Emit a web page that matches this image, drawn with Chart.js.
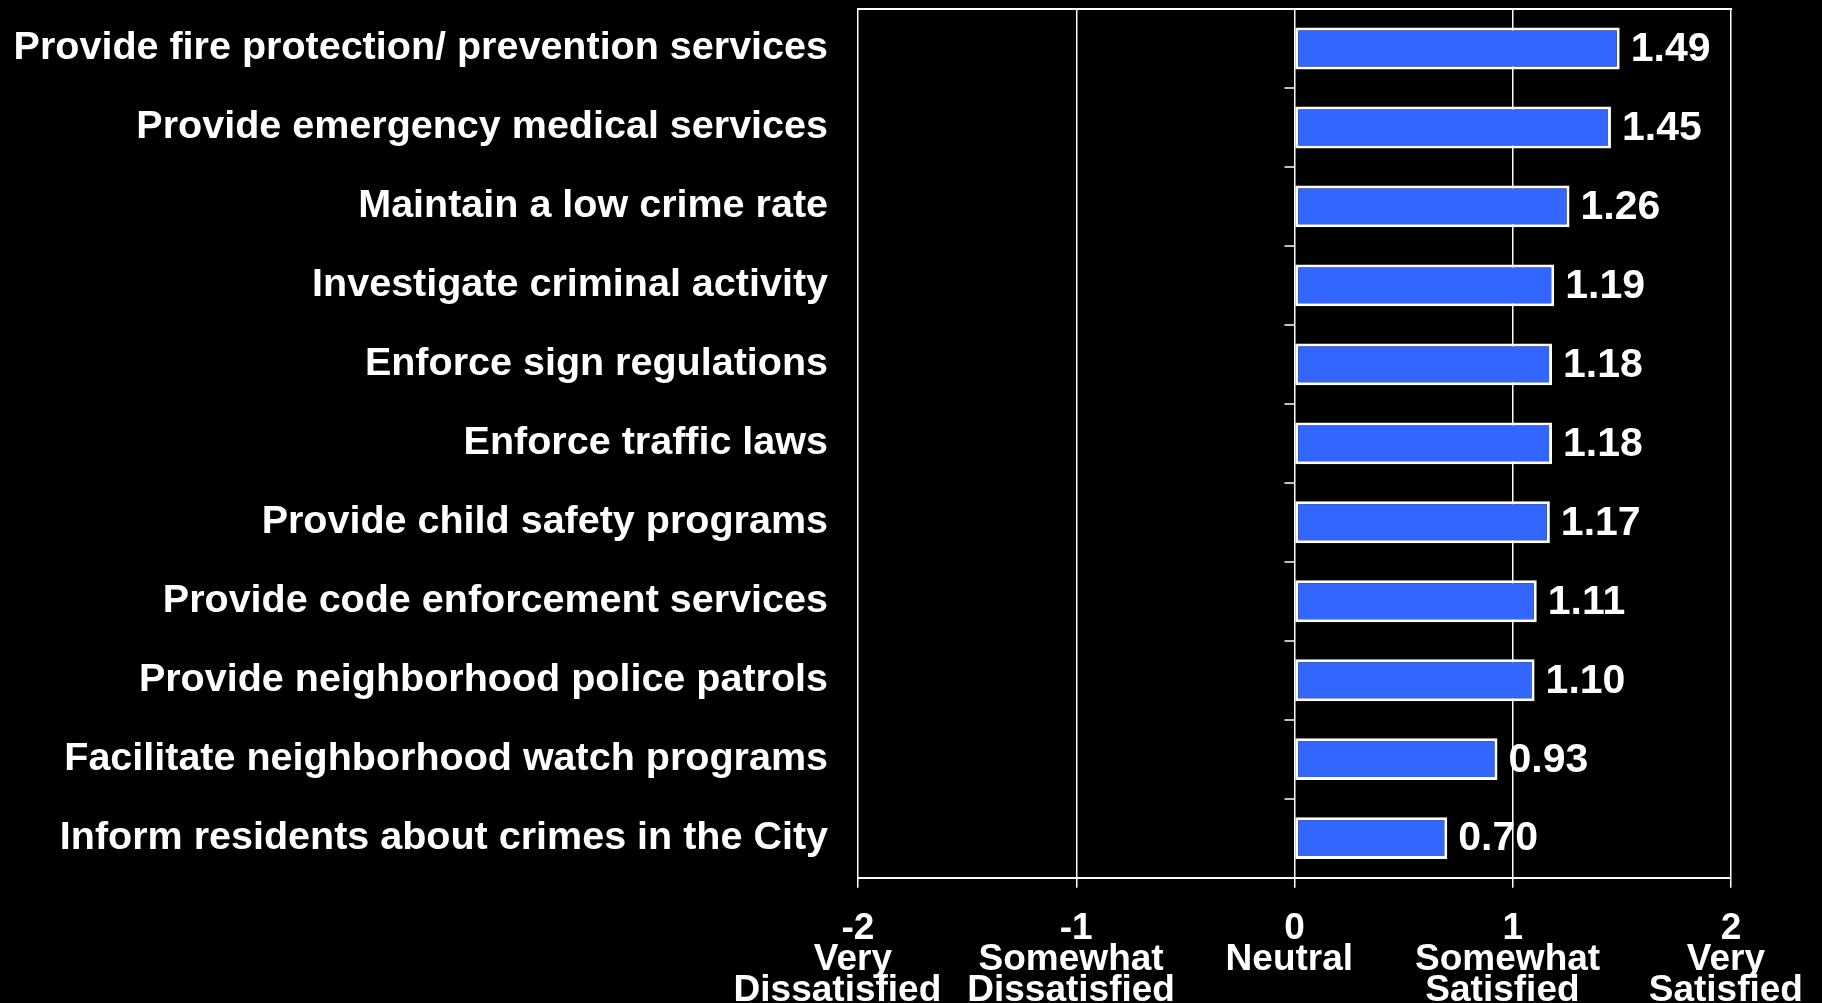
<!DOCTYPE html>
<html>
<head>
<meta charset="utf-8">
<title>Satisfaction with public safety services</title>
<script src="https://cdn.jsdelivr.net/npm/chart.js@4.4.1/dist/chart.umd.min.js"></script>
<style>
  html, body { margin: 0; padding: 0; background: #000; }
  #wrap { width: 1822px; height: 1003px; position: relative; }
</style>
</head>
<body>
<div id="wrap"><canvas id="chart"></canvas></div>
<script>
// -------- Data ----------
const services = [
  "Provide fire protection/ prevention services",
  "Provide emergency medical services",
  "Maintain a low crime rate",
  "Investigate criminal activity",
  "Enforce sign regulations",
  "Enforce traffic laws",
  "Provide child safety programs",
  "Provide code enforcement services",
  "Provide neighborhood police patrols",
  "Facilitate neighborhood watch programs",
  "Inform residents about crimes in the City"
];
const meanScores = [1.49, 1.45, 1.26, 1.19, 1.18, 1.18, 1.17, 1.11, 1.10, 0.93, 0.70];

const scaleValues = [-2, -1, 0, 1, 2];
const scaleLabels = [
  ["-2", "Very ", "Dissatisfied    "],
  ["-1", "Somewhat ", "Dissatisfied "],
  ["0", "Neutral "],
  ["1", "Somewhat ", "Satisfied  "],
  ["2", "Very ", "Satisfied "]
];

// -------- Style ----------
const FONT = "'Liberation Sans', Arial, sans-serif";
const WHITE = "#ffffff";
const BAR_BLUE = "#3366ff";

Chart.defaults.font.family = FONT;
Chart.defaults.color = WHITE;

// labels may hang past the plot edges, so drop the extra room scales ask for
function noEdgePadding(scale) {
  scale.paddingTop = 0;
  scale.paddingBottom = 0;
  scale.paddingLeft = 0;
  scale.paddingRight = 0;
}

// value printed just past the end of each bar
const valueLabels = {
  id: "valueLabels",
  afterDatasetsDraw(chart) {
    const ctx = chart.ctx;
    const meta = chart.getDatasetMeta(0);
    ctx.save();
    ctx.font = `bold 41px ${FONT}`;
    ctx.fillStyle = WHITE;
    ctx.textAlign = "left";
    ctx.textBaseline = "middle";
    meta.data.forEach((bar, i) => {
      ctx.fillText(meanScores[i].toFixed(2), bar.x + 11, bar.y + 1);
    });
    ctx.restore();
  }
};

// short ticks between categories, hanging left off the zero line
const zeroTicks = {
  id: "zeroTicks",
  afterDraw(chart) {
    const { ctx, scales: { x, y } } = chart;
    const x0 = x.getPixelForValue(0);
    ctx.save();
    ctx.strokeStyle = WHITE;
    ctx.lineWidth = 1.5;
    ctx.beginPath();
    for (let i = 0; i < services.length - 1; i++) {
      const yy = Math.round((y.getPixelForValue(i) + y.getPixelForValue(i + 1)) / 2);
      ctx.moveTo(x0 - 10, yy);
      ctx.lineTo(x0, yy);
    }
    ctx.stroke();
    ctx.restore();
  }
};

new Chart(document.getElementById("chart"), {
  type: "bar",
  data: {
    labels: services,
    datasets: [{
      data: meanScores,
      backgroundColor: BAR_BLUE,
      borderColor: WHITE,
      borderWidth: 3,
      borderSkipped: false,
      barPercentage: 0.53,
      categoryPercentage: 1
    }]
  },
  options: {
    indexAxis: "y",
    responsive: true,
    maintainAspectRatio: false,
    animation: false,
    layout: { autoPadding: false, padding: { left: -15, right: 91, top: 9, bottom: -29 } },
    plugins: {
      legend: { display: false },
      tooltip: { enabled: false }
    },
    scales: {
      x: {
        type: "linear",
        min: -2,
        max: 2,
        afterFit: noEdgePadding,
        ticks: {
          stepSize: 1,
          color: WHITE,
          padding: 25,
          maxRotation: 0,
          minRotation: 0,
          autoSkip: false,
          font: { size: 37, weight: "bold", lineHeight: 0.85 },
          callback: (v) => scaleLabels[scaleValues.indexOf(v)]
        },
        grid: { color: WHITE, lineWidth: 1.5, tickLength: 10 },
        border: { color: WHITE, width: 2 }
      },
      xTop: {
        type: "linear",
        position: "top",
        min: -2,
        max: 2,
        afterFit: noEdgePadding,
        ticks: { display: false },
        grid: { display: false, drawTicks: false },
        border: { color: WHITE, width: 2 }
      },
      y: {
        type: "category",
        offset: true,
        afterFit: noEdgePadding,
        ticks: { color: WHITE, padding: 30, font: { size: 39.5, weight: "bold" } },
        grid: { display: false, drawTicks: false },
        border: { display: false }
      }
    }
  },
  plugins: [valueLabels, zeroTicks]
});
</script>
</body>
</html>
